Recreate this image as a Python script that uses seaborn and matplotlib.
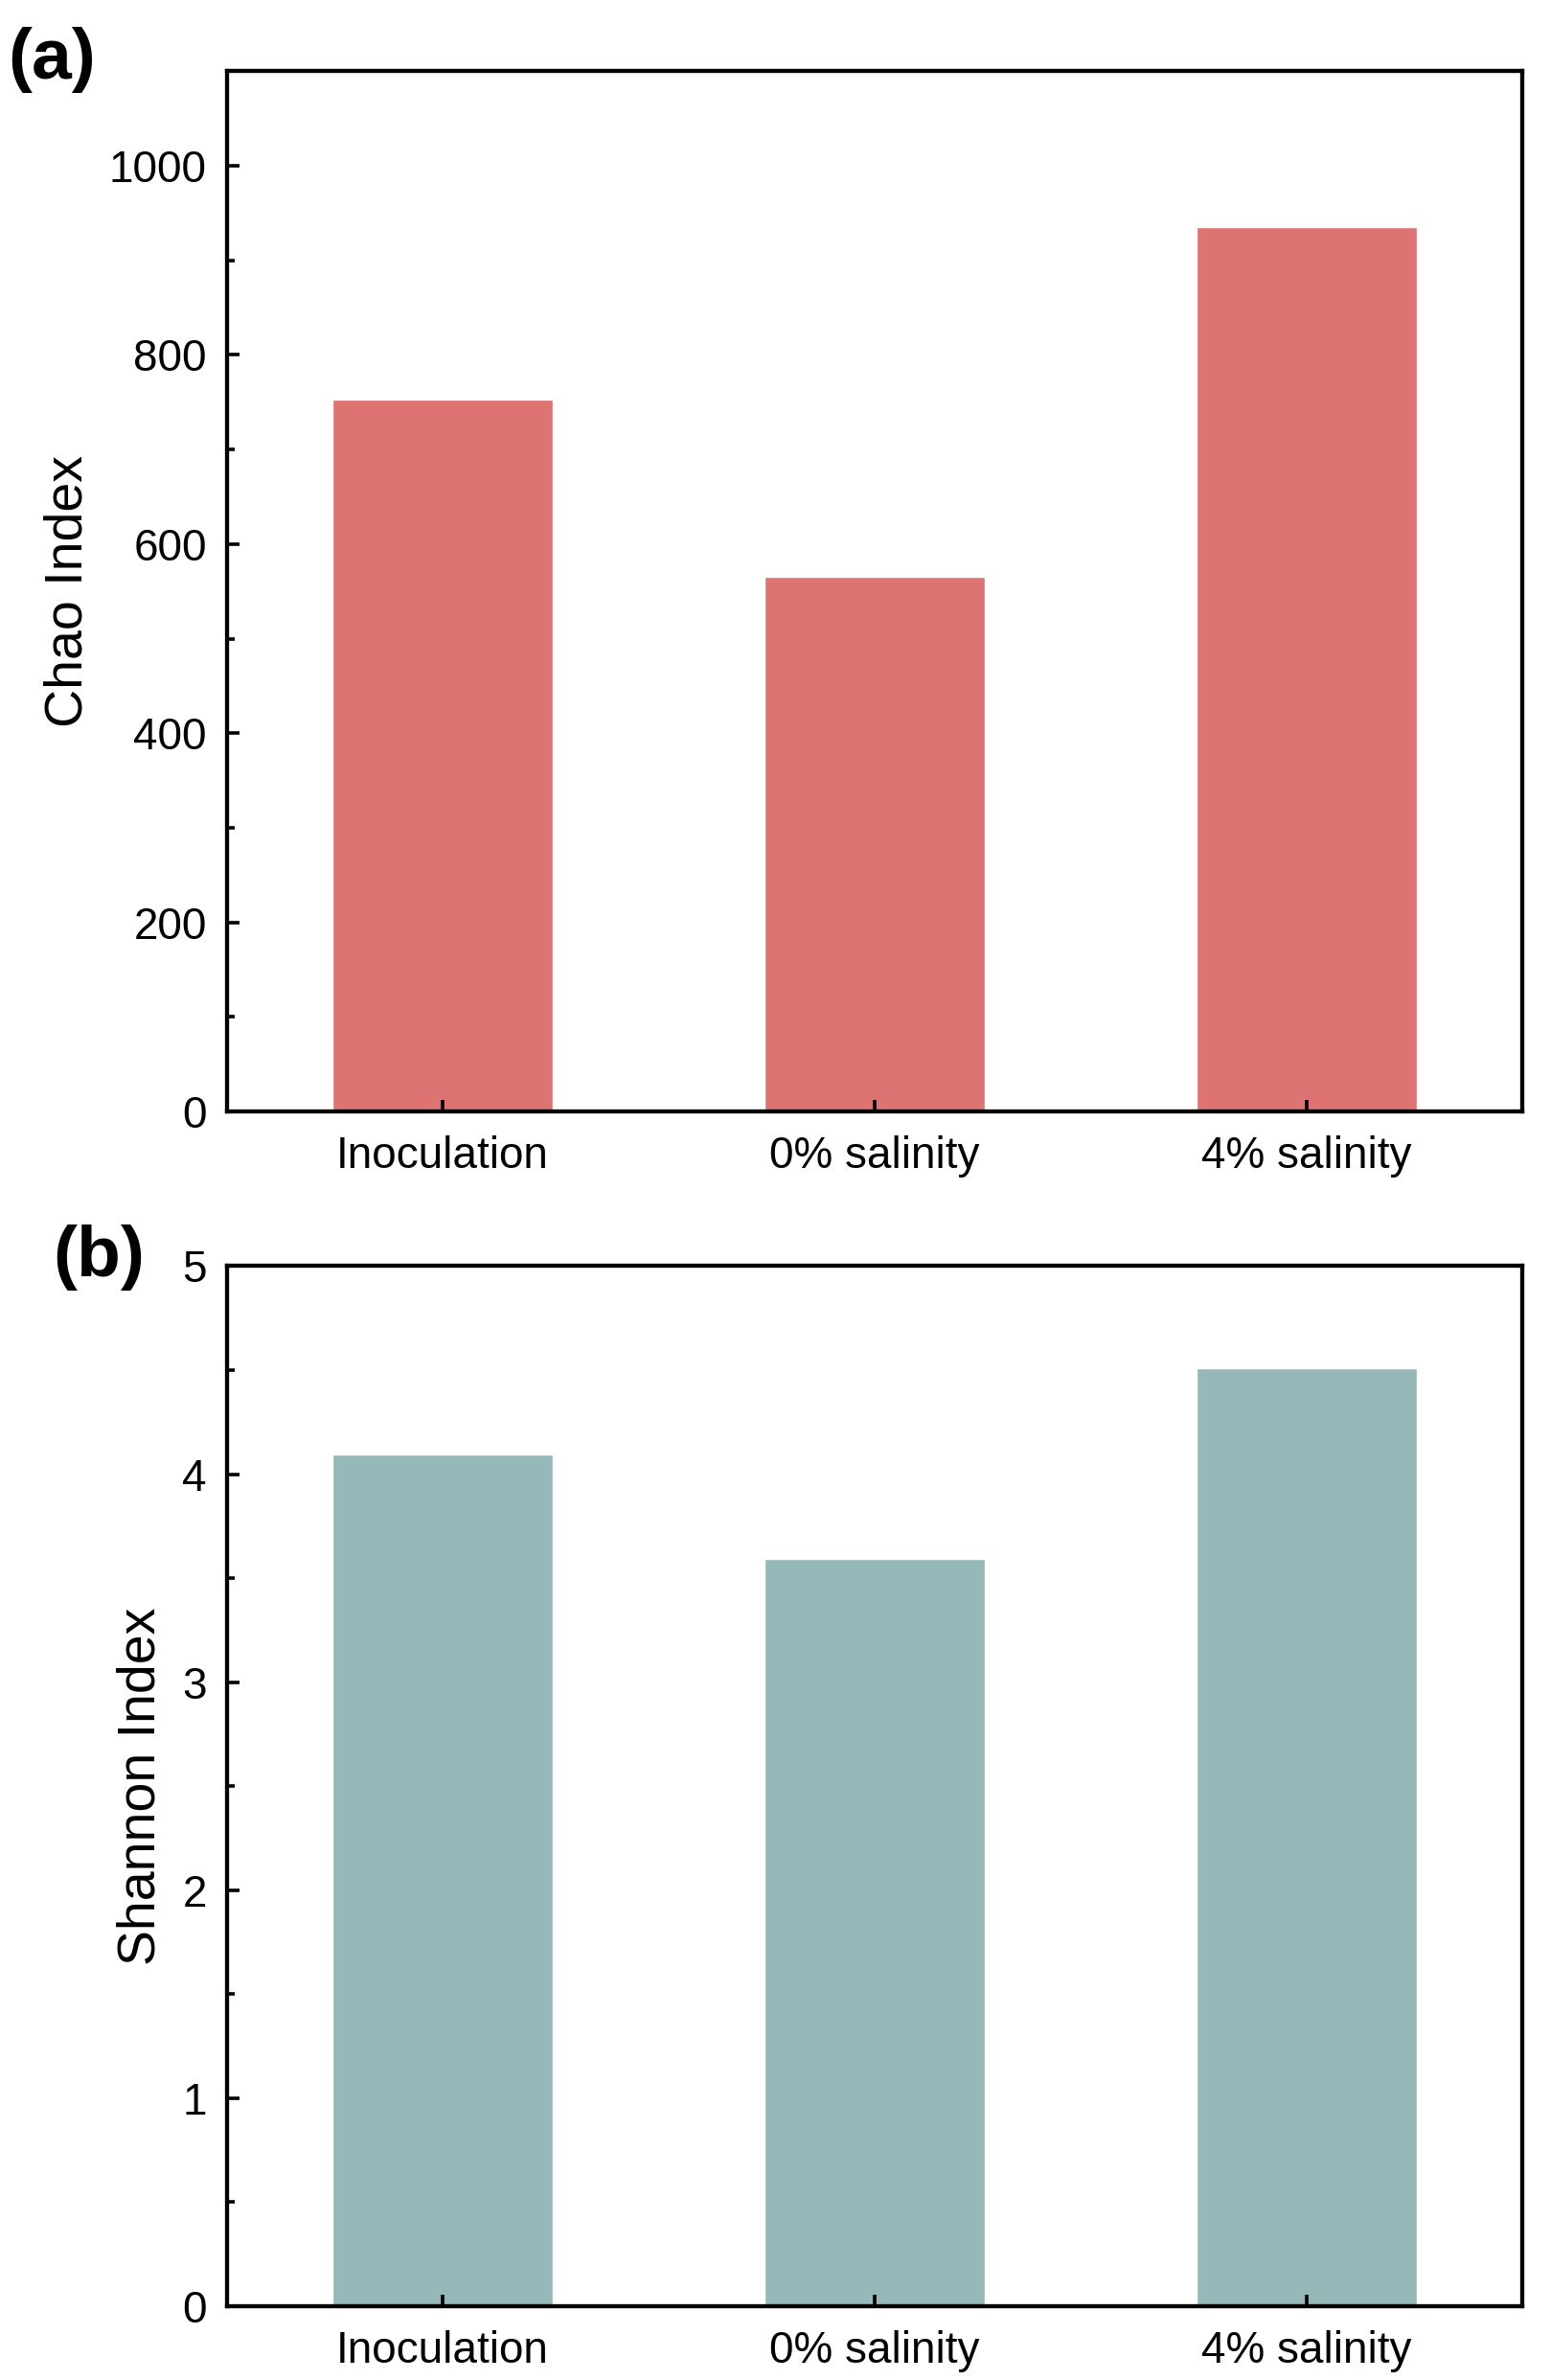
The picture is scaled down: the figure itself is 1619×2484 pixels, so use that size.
import matplotlib
matplotlib.use("Agg")
import matplotlib.pyplot as plt
import seaborn as sns
from matplotlib.ticker import MultipleLocator

categories = ["Inoculation", "0% salinity", "4% salinity"]
chao_values = [753, 565, 935]
shannon_values = [4.095, 3.593, 4.51]
chao_color = "#DD7372"
shannon_color = "#96B8B8"

sns.set_theme(style="ticks")
plt.rcParams['font.family'] = ['Liberation Sans', 'DejaVu Sans']
plt.rcParams['text.color'] = 'black'
plt.rcParams['axes.labelcolor'] = 'black'
plt.rcParams['xtick.color'] = 'black'
plt.rcParams['ytick.color'] = 'black'

fig = plt.figure(figsize=(16.19, 24.84), dpi=100)
left, right = 0.1461, 0.9815
ax1 = fig.add_axes([left, 0.5330, right - left, 0.9701 - 0.5330])
ax2 = fig.add_axes([left, 0.0310, right - left, 0.4680 - 0.0310])

def style(ax, ylabel, ylim, major, minor):
    ax.set_xlim(-0.5, 2.5)
    ax.set_ylim(*ylim)
    ax.yaxis.set_major_locator(MultipleLocator(major))
    ax.yaxis.set_minor_locator(MultipleLocator(minor))
    for s in ax.spines.values():
        s.set_linewidth(3.1)
        s.set_color("black")
    ax.tick_params(axis="both", which="major", direction="in", length=9, width=2.6,
                   labelsize=33, color="black", labelcolor="black")
    ax.tick_params(axis="y", which="major", pad=15)
    ax.tick_params(axis="x", which="major", pad=18)
    ax.tick_params(axis="y", which="minor", direction="in", length=5.5, width=2.6, color="black")
    ax.tick_params(axis="x", which="minor", bottom=False)
    ax.set_ylabel(ylabel, fontsize=40, labelpad=12, color="black")
    ax.set_xlabel("")

sns.barplot(x=categories, y=chao_values, color=chao_color, width=0.51, saturation=1,
            ax=ax1, zorder=1)
style(ax1, "Chao Index", (0, 1100), 200, 100)
sns.barplot(x=categories, y=shannon_values, color=shannon_color, width=0.51, saturation=1,
            ax=ax2, zorder=1)
style(ax2, "Shannon Index", (0, 5), 1, 0.5)

for ax in (ax1, ax2):
    ax.set_axisbelow(False)

fig.text(0.005, 0.975, "(a)", fontsize=54, fontweight="bold", ha="left", va="center", color="black")
fig.text(0.034, 0.4715, "(b)", fontsize=54, fontweight="bold", ha="left", va="center", color="black")

fig.savefig("out.png", dpi=100)
